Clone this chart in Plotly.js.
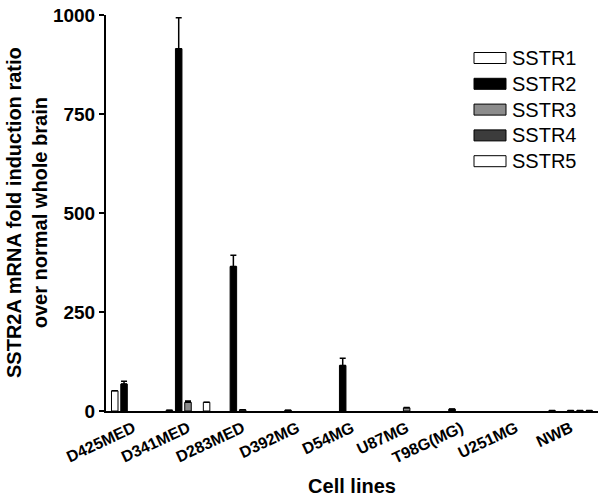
<!DOCTYPE html>
<html><head><meta charset="utf-8">
<script src="https://cdn.plot.ly/plotly-3.0.1.min.js"></script>
<style>html,body{margin:0;padding:0;background:#fff}#c{width:604px;height:499px}</style>
</head><body><div id="c"></div>
<script>
const categories = ["D425MED","D341MED","D283MED","D392MG","D54MG","U87MG","T98G(MG)","U251MG","NWB"];
const seriesNames = ["SSTR1","SSTR2","SSTR3","SSTR4","SSTR5"];
const sstr1 = [51, 2, 0, 0, 0, 0, 0, 0, 1];
const sstr2 = [68, 915, 365, 2, 115, 0, 5, 0, 0];
const sstr3 = [0, 22, 3, 0, 0, 8, 0, 0, 1];
const sstr4 = [0, 0, 0, 0, 0, 0, 0, 0, 1];
const sstr5 = [0, 22, 0, 0, 0, 0, 0, 0, 1];
const err1 = [0, 0, 0, 0, 0, 0, 0, 0, 0];
const err2 = [7, 78, 28, 0, 18, 0, 0, 0, 0];
const err3 = [0, 3, 0, 0, 0, 1, 0, 0, 0];
const err4 = [0, 0, 0, 0, 0, 0, 0, 0, 0];
const err5 = [0, 0, 0, 0, 0, 0, 0, 0, 0];
const yTicks = [0, 250, 500, 750, 1000];

const values = [sstr1, sstr2, sstr3, sstr4, sstr5];
const errs = [err1, err2, err3, err4, err5];
const fills = ["#ffffff", "#000000", "#8c8c8c", "#3c3c3c", "#ffffff"];
const ff = "Liberation Sans";

const traces = seriesNames.map((n, i) => ({
  type: "bar", name: n, x: categories,
  y: values[i].map(v => v === 0 ? null : v),
  showlegend: false,
  marker: {color: fills[i], line: {color: "#000", width: 1}},
  error_y: {type: "data", symmetric: false, array: errs[i], arrayminus: errs[i].map(() => 0),
            color: "#000", thickness: 1.5, width: 3, visible: true}
}));

const W = 604, H = 499;
const L = 106, T = 15, PW = 492, PH = 396;
const px = x => (x - L) / PW, py = y => (T + PH - y) / PH;
const legTop = 58, legStep = 25.8;
const shapes = [], annotations = [];
seriesNames.forEach((n, i) => {
  const cy = legTop + i * legStep;
  shapes.push({type: "rect", xref: "paper", yref: "paper",
    x0: px(474), x1: px(506), y0: py(cy + 5.5), y1: py(cy - 5.5),
    fillcolor: fills[i], line: {color: "#000", width: 1}});
  annotations.push({xref: "paper", yref: "paper", x: px(510), y: py(cy),
    xanchor: "left", yanchor: "middle", showarrow: false, text: n,
    font: {family: ff, size: 20, color: "#000"}});
});
annotations.push({xref: "paper", yref: "paper", x: px(27), y: 0.5, textangle: -90,
  xanchor: "center", yanchor: "middle", showarrow: false,
  text: "<b>SSTR2A mRNA fold induction ratio<br>over normal whole brain</b>",
  font: {family: ff, size: 20, color: "#000"}});

Plotly.newPlot("c", traces, {
  width: W, height: H,
  margin: {l: L, r: 6, t: T, b: 88},
  paper_bgcolor: "#fff", plot_bgcolor: "#fff",
  barmode: "group", bargap: 0.15, bargroupgap: 0.3,
  shapes: shapes, annotations: annotations,
  xaxis: {
    showline: true, linecolor: "#000", linewidth: 2, ticks: "", tickangle: -25,
    tickmode: "array", tickvals: categories, ticktext: categories,
    tickfont: {family: ff, size: 16, color: "#000", weight: "bold"},
    title: {text: "<b>Cell lines</b>", font: {family: ff, size: 20, color: "#000"}, standoff: 14},
    showgrid: false, zeroline: false
  },
  yaxis: {
    range: [0, 1000], tickmode: "array", tickvals: yTicks, ticktext: yTicks.map(String),
    showline: true, linecolor: "#000", linewidth: 2, ticks: "outside", ticklen: 5, tickwidth: 1.5, tickcolor: "#000",
    tickfont: {family: ff, size: 19, color: "#000", weight: "bold"},
    showgrid: false, zeroline: false
  }
}, {displayModeBar: false});
</script></body></html>
